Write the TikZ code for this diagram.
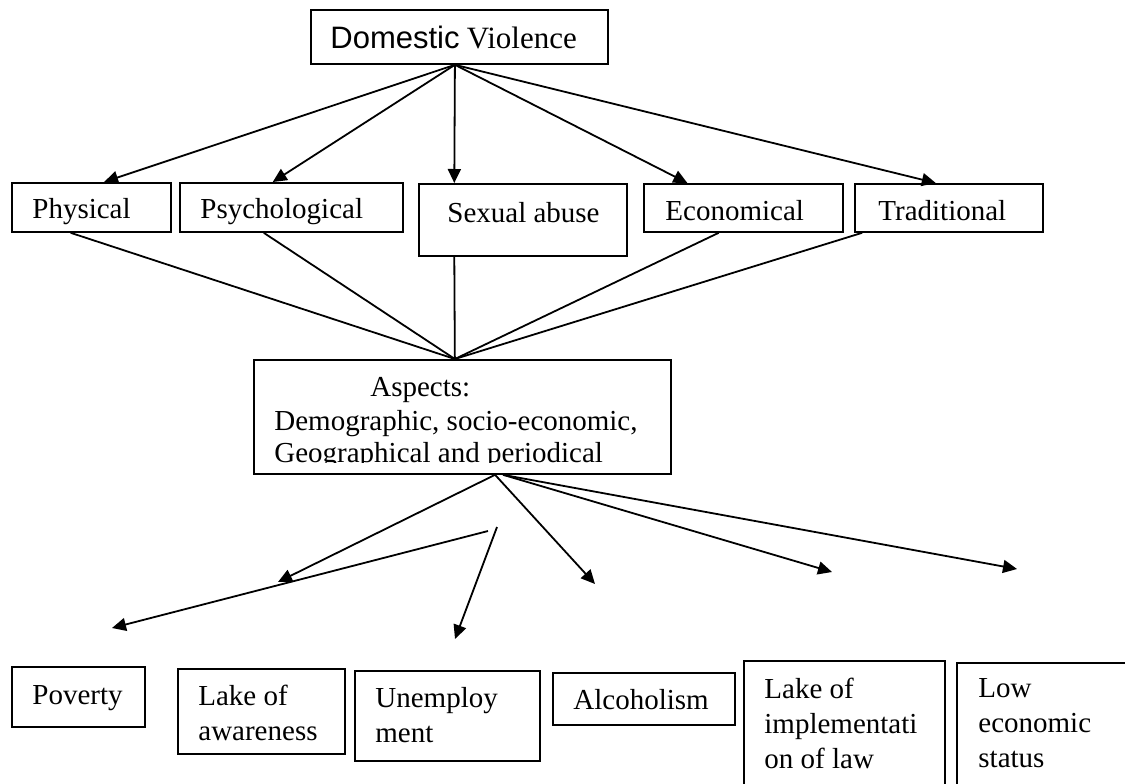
\documentclass[tikz,border=0pt]{standalone}
\usepackage{fontspec}
\setmainfont{Liberation Serif}
\newfontfamily\arialfont{Liberation Sans}
\usetikzlibrary{arrows.meta,calc}
\begin{document}
\begin{tikzpicture}[x=0.5pt,y=-0.5pt,
  box/.style={draw,line width=0.9pt,inner sep=0pt,anchor=north west},
  txt/.style={inner sep=0pt,anchor=base west,font=\fontsize{14.5}{17.5}\selectfont},
  conn/.style={line width=0.9pt},
  arr/.style={line width=0.9pt,-{Triangle[length=7pt,width=6.5pt]}}]
\clip (0,0) rectangle (1125,783);
\fill[white] (0,0) rectangle (1125,783);

% ---- boxes ----
\node[box,minimum width=148.5pt,minimum height=27pt] (dv) at (310,9) {};
\node[box,minimum width=79.5pt,minimum height=24.5pt] (phys) at (11,182) {};
\node[box,minimum width=111.5pt,minimum height=24.5pt] (psych) at (179,182) {};
\node[box,minimum width=104pt,minimum height=36pt] (sex) at (418,183) {};
\node[box,minimum width=99.5pt,minimum height=24pt] (econ) at (643,183) {};
\node[box,minimum width=94pt,minimum height=24pt] (trad) at (854,183) {};
\node[box,minimum width=208.5pt,minimum height=57pt] (asp) at (253,359) {};
\node[box,minimum width=66.5pt,minimum height=30pt] (pov) at (11,666) {};
\node[box,minimum width=83.5pt,minimum height=42.5pt] (awa) at (177,668) {};
\node[box,minimum width=92.5pt,minimum height=45pt] (unemp) at (354,670) {};
\node[box,minimum width=91pt,minimum height=26pt] (alc) at (552,672) {};
\node[box,minimum width=100.5pt,minimum height=70pt] (law) at (743,660) {};
\node[box,minimum width=92pt,minimum height=69pt] (low) at (956,662) {};

% ---- texts ----
\node[txt] (dvt) at (330,48) {{\arialfont\fontsize{15.5}{18}\selectfont Domestic} {\fontsize{15.5}{18}\selectfont Violence}};
\node[txt] (physt) at (32,218) {Physical};
\node[txt] (psycht) at (200,218) {Psychological};
\node[txt] (sext) at (447,222) {Sexual abuse};
\node[txt] (econt) at (665,220) {Economical};
\node[txt] (tradt) at (878,220) {Traditional};
\begin{scope}
\clip (253,359) rectangle (670,462);
\node[txt] (aspt) at (274,396) {\begin{tabular}[t]{@{}l@{}}\hspace*{48pt}Aspects:\\[-0.3pt]Demographic, socio-economic,\\[-1.5pt]Geographical and periodical\end{tabular}};
\end{scope}
\node[txt] (povt) at (32,704) {Poverty};
\node[txt] (awat) at (198,705) {\begin{tabular}[t]{@{}l@{}}Lake of\\awareness\end{tabular}};
\node[txt] (unempt) at (375,707) {\begin{tabular}[t]{@{}l@{}}Unemploy\\ment\end{tabular}};
\node[txt] (alct) at (573,709) {Alcoholism};
\node[txt] (lawt) at (764,698) {\begin{tabular}[t]{@{}l@{}}Lake of\\implementati\\on of law\end{tabular}};
\node[txt] (lowt) at (978,697) {\begin{tabular}[t]{@{}l@{}}Low\\economic\\status\end{tabular}};

% ---- top arrows ----
\coordinate (dvo) at ($(dv.south west)!0.485!(dv.south east)$);
\draw[arr] (dvo) -- ($(phys.north west)!0.579!(phys.north east)$);
\draw[arr] (dvo) -- ($(psych.north west)!0.417!(psych.north east)$);
\draw[arr] (dvo) -- ($(sex.north west)!0.173!(sex.north east)$);
\draw[arr] (dvo) -- ($(econ.north west)!0.221!(econ.north east)$);
\draw[arr] (dvo) -- ($(trad.north west)!0.431!(trad.north east)$);

% ---- lines to aspects ----
\coordinate (aspi) at ($(asp.north west)!0.482!(asp.north east)$);
\draw[conn] ($(phys.south west)!0.371!(phys.south east)$) -- (aspi);
\draw[conn] ($(psych.south west)!0.377!(psych.south east)$) -- (aspi);
\draw[conn] ($(sex.south west)!0.173!(sex.south east)$) -- (aspi);
\draw[conn] ($(econ.south west)!0.377!(econ.south east)$) -- (aspi);
\draw[conn] ($(trad.south west)!0.043!(trad.south east)$) -- (aspi);

% ---- bottom arrows ----
\coordinate (aspo) at ($(asp.south west)!0.578!(asp.south east)$);
\coordinate (aspo2) at ($(asp.south west)!0.597!(asp.south east)$);
\coordinate (s1) at (488,531);
\coordinate (s2) at (497,527);
\coordinate (e1) at (278,582);
\coordinate (e2) at (112,628);
\coordinate (e3) at (455,639);
\coordinate (e4) at (595,584);
\coordinate (e5) at (832,572);
\coordinate (e6) at (1017,569);
\draw[arr] (aspo) -- (e1);
\draw[arr] (s1) -- (e2);
\draw[arr] (s2) -- (e3);
\draw[arr] (aspo) -- (e4);
\draw[arr] (aspo2) -- (e5);
\draw[arr] (aspo2) -- (e6);
\end{tikzpicture}
\end{document}
